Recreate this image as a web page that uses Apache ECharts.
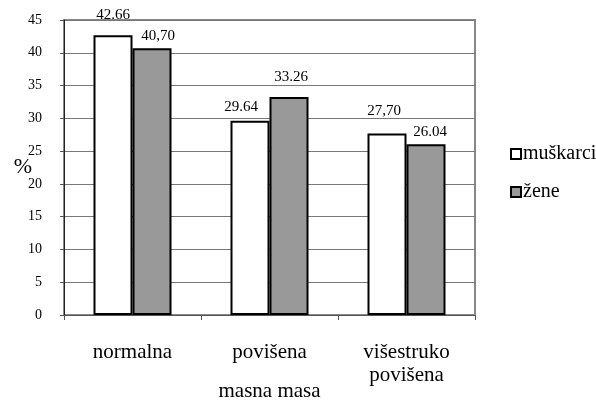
<!DOCTYPE html>
<html>
<head>
<meta charset="utf-8">
<script src="https://cdn.jsdelivr.net/npm/echarts@6/dist/echarts.min.js"></script>
<style>
html,body{margin:0;padding:0;background:#fff;}
#chart{width:596px;height:401px;}
</style>
</head>
<body>
<div id="chart"></div>
<script>
const categories = ['normalna', 'povišena', 'višestruko\npovišena'];
const seriesNames = ['muškarci', 'žene'];
const muskarci = [42.66, 29.64, 27.70];
const zene = [40.70, 33.26, 26.04];
const muskarciLabels = ['42.66', '29.64', '27,70'];
const zeneLabels = ['40,70', '33.26', '26.04'];
const yTicks = [0, 5, 10, 15, 20, 25, 30, 35, 40, 45];

// per-bar nudges of the value labels
const muskarciOffsets = [[0, -8], [-9, -1], [-3, -10]];
const zeneOffsets = [[6, 0], [2, -7], [4, 0]];

const serif = 'Liberation Serif';

function buildData(values, labels, offsets) {
  return values.map((v, i) => ({
    value: v,
    label: { formatter: labels[i], offset: offsets[i] }
  }));
}

const chart = echarts.init(document.getElementById('chart'));
chart.setOption({
  animation: false,
  backgroundColor: '#fff',
  textStyle: { fontFamily: serif, color: '#000' },
  grid: {
    left: 64, right: 121, top: 20, bottom: 86,
    outerBoundsMode: 'none',
    containLabel: false,
    show: true, borderColor: '#888', borderWidth: 2, backgroundColor: 'transparent'
  },
  legend: {
    orient: 'vertical',
    left: 505, top: 139,
    itemWidth: 10, itemHeight: 10, itemGap: 18,
    icon: 'rect',
    textStyle: { fontFamily: serif, fontSize: 20, color: '#000', padding: [0, 0, 0, -3] },
    data: seriesNames
  },
  xAxis: {
    type: 'category',
    data: categories,
    name: 'masna masa',
    nameLocation: 'middle',
    nameGap: 66,
    nameMoveOverlap: false,
    nameTextStyle: { fontFamily: serif, fontSize: 21, color: '#000' },
    axisLine: { lineStyle: { color: '#555', width: 1 } },
    axisTick: { show: true, length: 5, lineStyle: { color: '#555' } },
    axisLabel: { fontFamily: serif, fontSize: 21, color: '#000', margin: 26, lineHeight: 23 },
    splitLine: { show: false }
  },
  yAxis: {
    type: 'value',
    min: 0, max: 45, interval: 5,
    name: '%',
    nameLocation: 'middle',
    nameRotate: 0,
    nameGap: 32,
    nameMoveOverlap: false,
    nameTextStyle: { fontFamily: serif, fontSize: 22, color: '#000', align: 'right' },
    axisLine: { show: true, lineStyle: { color: '#222', width: 1 } },
    axisTick: { show: true, length: 4, lineStyle: { color: '#555' } },
    axisLabel: {
      fontFamily: serif, fontSize: 14, color: '#000', margin: 22,
      formatter: v => yTicks.includes(v) ? String(v) : ''
    },
    splitLine: { show: true, lineStyle: { color: '#777', width: 1 } }
  },
  series: [
    {
      name: seriesNames[0],
      type: 'bar',
      barWidth: 39,
      barGap: '0%',
      itemStyle: { color: '#fff', borderColor: '#000', borderWidth: 2 },
      label: { show: true, position: 'top', fontFamily: serif, fontSize: 15, color: '#000' },
      data: buildData(muskarci, muskarciLabels, muskarciOffsets)
    },
    {
      name: seriesNames[1],
      type: 'bar',
      barWidth: 39,
      barGap: '0%',
      itemStyle: { color: '#999', borderColor: '#000', borderWidth: 2 },
      label: { show: true, position: 'top', fontFamily: serif, fontSize: 15, color: '#000' },
      data: buildData(zene, zeneLabels, zeneOffsets)
    }
  ]
});
</script>
</body>
</html>
